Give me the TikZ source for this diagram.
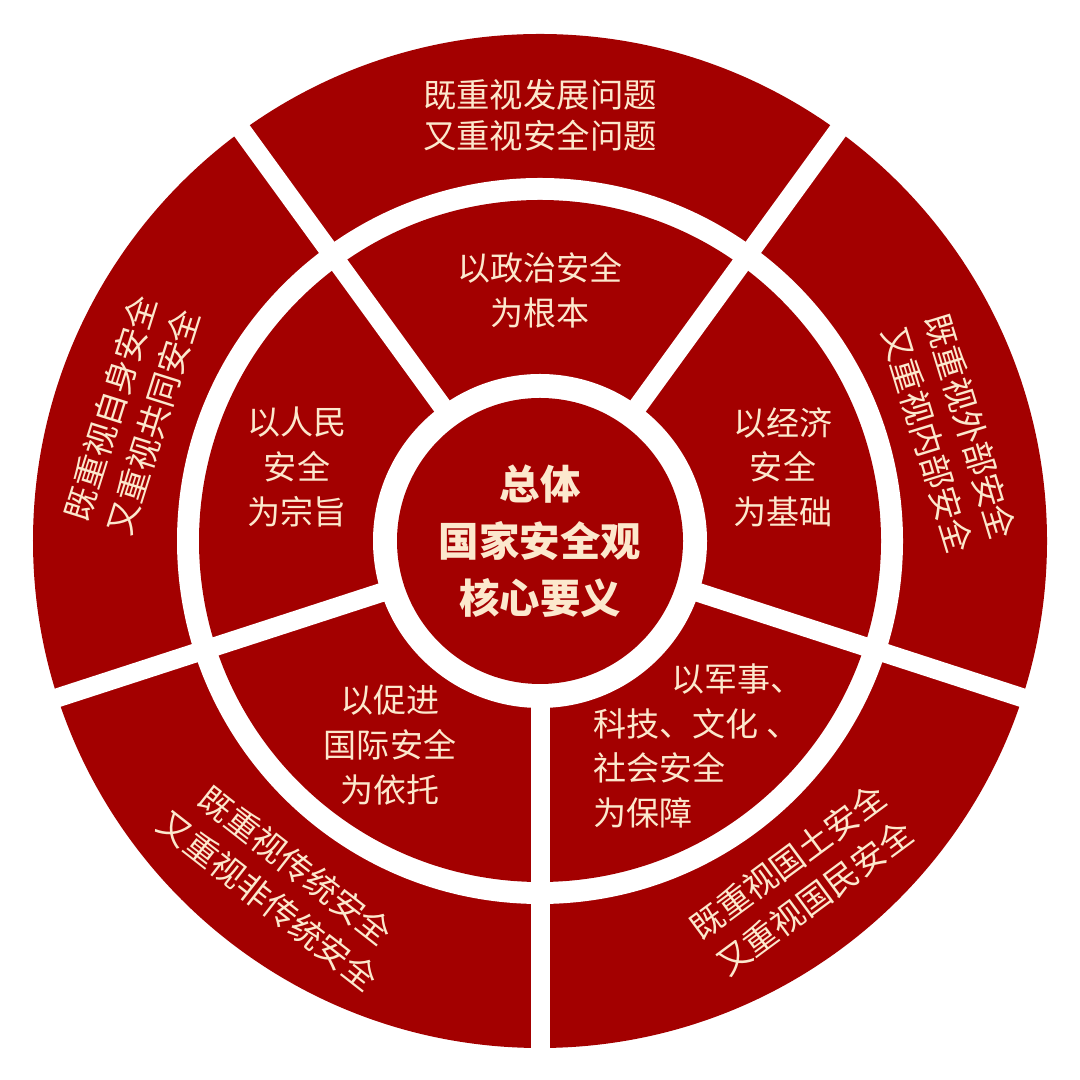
\documentclass[tikz,border=0pt]{standalone}
\usepackage{fontspec}
\newfontfamily\cjk{Noto Sans CJK SC}
\definecolor{redbg}{RGB}{163,0,0}
\definecolor{cream}{RGB}{252,232,205}
\begin{document}
\begin{tikzpicture}[
  outertxt/.style={text=cream, font=\cjk\fontsize{9.5}{11.6}\selectfont, align=center, inner sep=0pt},
  slanttxt/.style={text=cream, font=\cjk\fontsize{9.5}{12.8}\selectfont, align=center, inner sep=0pt},
  innertxt/.style={text=cream, font=\cjk\fontsize{9.4}{12.7}\selectfont, align=center, inner sep=0pt},
  coretxt/.style={text=cream, font=\cjk\bfseries\fontsize{11.5}{16.2}\selectfont, align=center, inner sep=0pt},
  divider/.style={white, line width=0.19cm}
]
\useasboundingbox (0,0) rectangle (10.8,10.8);
\fill[white] (0,0) rectangle (10.8,10.8);
\coordinate (C) at (5.40,5.39);
% rings
\fill[redbg] (C) circle[radius=5.07];
\fill[white] (C) circle[radius=3.63];
\fill[redbg] (C) circle[radius=3.41];
\foreach \a in {54,126,198,270,342}
  \draw[divider] (C) -- ++(\a:5.3);
\fill[white] (C) circle[radius=1.67];
\fill[redbg] (C) circle[radius=1.43];

% centre
\node[coretxt] (core) at (5.40,5.39) {总体\\国家安全观\\核心要义};

% inner ring
\node[innertxt] (politics) at (5.40,7.90) {以政治安全\\为根本};
\node[innertxt] (people) at (2.97,6.13) {以人民\\安全\\为宗旨};
\node[innertxt] (economy) at (7.83,6.13) {以经济\\安全\\为基础};
\node[innertxt] (intl) at (3.90,3.35) {以促进\\国际安全\\为依托};
\node[innertxt, align=left, anchor=west] (military) at (5.93,3.34)
  {\hspace*{0.78cm}以军事、\\科技、文化 、\\社会安全\\为保障};

% outer ring
\node[outertxt] (devsec) at (5.40,9.65) {既重视发展问题\\又重视安全问题};
\node[slanttxt, rotate=72.5] (selfcommon) at (1.32,6.65) {既重视自身安全\\又重视共同安全};
\node[slanttxt, rotate=-73] (extint) at (9.49,6.47) {既重视外部安全\\又重视内部安全};
\node[slanttxt, rotate=-38] (tradnon) at (2.82,1.97) {既重视传统安全\\又重视非传统安全};
\node[slanttxt, rotate=36.5] (landpeople) at (8.01,2.00) {既重视国土安全\\又重视国民安全};
\end{tikzpicture}
\end{document}
